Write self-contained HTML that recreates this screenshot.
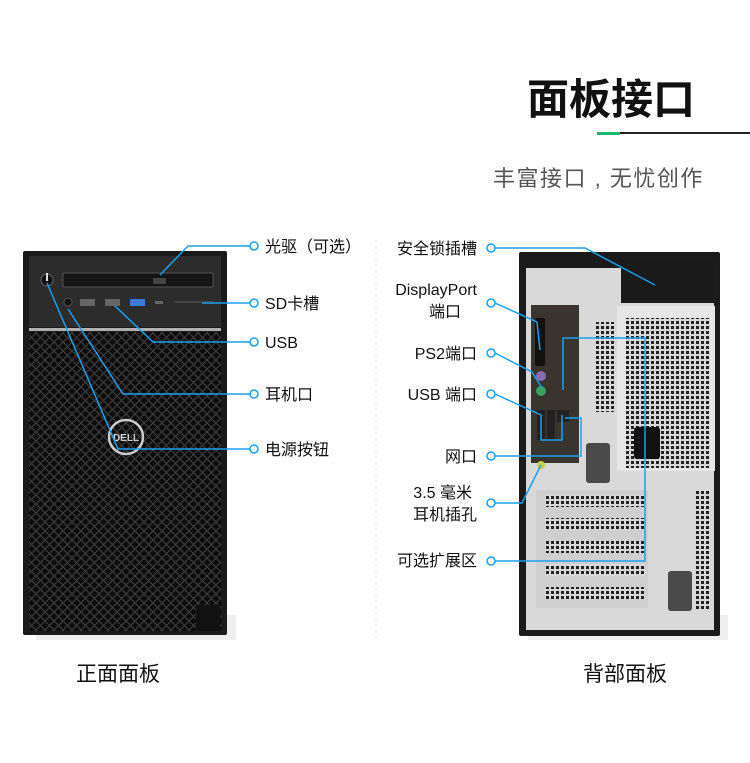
<!DOCTYPE html>
<html><head><meta charset="utf-8"><style>
html,body{margin:0;padding:0;background:#fff;}
svg{display:block;font-family:"Liberation Sans","Noto Sans CJK SC",sans-serif;}
</style></head><body>
<svg width="750" height="763" viewBox="0 0 750 763" xmlns="http://www.w3.org/2000/svg">
<defs>
<pattern id="mesh" width="9" height="9" patternUnits="userSpaceOnUse">
<rect width="9" height="9" fill="#0c0c0c"/>
<path d="M0 0L9 9M9 0L0 9" stroke="#3a3a3a" stroke-width="1.3"/>
</pattern>
<pattern id="grill" width="5" height="5" patternUnits="userSpaceOnUse">
<rect width="5" height="5" fill="#d8d8d8"/>
<rect x="1" y="1" width="3" height="3" fill="#222"/>
</pattern>
</defs>
<text x="527" y="114" font-size="42" font-weight="bold" fill="#111">面板接口</text>
<rect x="597" y="132" width="23" height="3" fill="#19b870"/>
<rect x="620" y="132" width="130" height="2" fill="#222"/>
<text x="493" y="186" font-size="22" letter-spacing="1.5" fill="#555">丰富接口 , 无忧创作</text>

<line x1="376" y1="240" x2="376" y2="640" stroke="#e2e2e2" stroke-dasharray="3 3"/>

<!-- front tower -->
<rect x="36" y="615" width="200" height="25" fill="#eee"/>
<rect x="23" y="251" width="204" height="384" rx="2" fill="#1a1a1a"/>
<rect x="29" y="256" width="192" height="71" fill="#2c2c2c"/>
<rect x="29" y="328" width="192" height="3" fill="#b0b0b0"/>
<rect x="29" y="332" width="192" height="299" fill="url(#mesh)"/>
<rect x="196" y="605" width="24" height="26" fill="#111"/>
<rect x="63" y="273" width="150" height="14" rx="1" fill="#151515" stroke="#555"/>
<rect x="153" y="278" width="13" height="6" fill="#444"/>
<circle cx="47" cy="280" r="6" fill="#111" stroke="#666"/>
<rect x="46" y="273" width="2" height="8" fill="#ddd"/>
<circle cx="68" cy="302" r="4" fill="#111" stroke="#555"/>
<rect x="80" y="299" width="15" height="7" fill="#666"/>
<rect x="105" y="299" width="15" height="7" fill="#666"/>
<rect x="130" y="299" width="15" height="7" fill="#3a7bd5"/>
<rect x="155" y="301" width="8" height="3" fill="#666"/>
<rect x="175" y="301" width="38" height="2" fill="#444"/>
<circle cx="126" cy="437" r="17" fill="none" stroke="#ccc" stroke-width="2.5"/>
<text x="126" y="441" font-size="10" font-weight="bold" fill="#ccc" text-anchor="middle">DELL</text>

<g stroke="#1aa0f0" stroke-width="1.5" fill="none">
<polyline points="250,246 188,246 160,275"/>
<polyline points="250,303 202,303"/>
<polyline points="250,342 153,342 115,306"/>
<polyline points="250,394 123,394 68,309"/>
<polyline points="250,449 118,449 47,283"/>
</g>
<g fill="#fff" stroke="#1aa0f0" stroke-width="1.5">
<circle cx="254" cy="246" r="4"/><circle cx="254" cy="303" r="4"/><circle cx="254" cy="342" r="4"/><circle cx="254" cy="394" r="4"/><circle cx="254" cy="449" r="4"/>
</g>
<g font-size="16" fill="#111">
<text x="265" y="252">光驱（可选）</text>
<text x="265" y="309">SD卡槽</text>
<text x="265" y="348">USB</text>
<text x="265" y="400">耳机口</text>
<text x="265" y="455">电源按钮</text>
</g>

<!-- back tower -->
<rect x="528" y="615" width="200" height="25" fill="#eee"/>
<rect x="519" y="252" width="201" height="384" rx="2" fill="#1b1b1b"/>
<rect x="526" y="268" width="188" height="362" fill="#d9d9d9"/>
<rect x="621" y="260" width="93" height="43" fill="#1a1a1a"/>
<rect x="531" y="305" width="48" height="158" fill="#3a342e"/>
<rect x="617" y="306" width="98" height="165" fill="#e6e6e6"/>
<rect x="626" y="318" width="84" height="150" fill="url(#grill)"/>
<rect x="634" y="427" width="26" height="32" rx="3" fill="#111"/>
<rect x="596" y="322" width="20" height="90" fill="url(#grill)"/>
<rect x="586" y="443" width="24" height="40" rx="3" fill="#4a4a4a"/>
<rect x="536" y="490" width="112" height="118" fill="#cfcfcf"/>
<rect x="545" y="495" width="100" height="12" fill="url(#grill)"/>
<rect x="545" y="518" width="100" height="12" fill="url(#grill)"/>
<rect x="545" y="541" width="100" height="12" fill="url(#grill)"/>
<rect x="545" y="564" width="100" height="12" fill="url(#grill)"/>
<rect x="545" y="587" width="100" height="12" fill="url(#grill)"/>
<rect x="696" y="490" width="14" height="120" fill="url(#grill)"/>
<rect x="668" y="571" width="24" height="40" rx="3" fill="#4a4a4a"/>
<rect x="535" y="318" width="10" height="48" rx="2" fill="#111"/>
<circle cx="541" cy="376" r="5" fill="#8a6ab0"/>
<circle cx="541" cy="391" r="5" fill="#3aa060"/>
<rect x="537" y="410" width="8" height="30" fill="#222"/>
<rect x="547" y="410" width="8" height="30" fill="#222"/>
<rect x="557" y="410" width="12" height="12" fill="#222"/>
<circle cx="541" cy="465" r="4" fill="#c8d040"/>

<g stroke="#1aa0f0" stroke-width="1.5" fill="none">
<polyline points="495,248 585,248 655,285"/>
<polyline points="495,303 537,322 540,350"/>
<polyline points="495,353 532,372 542,388"/>
<polyline points="495,394 541,415 541,440 562,440 562,415"/>
<polyline points="495,456 581,456 581,418 565,418"/>
<polyline points="495,503 522,503 541,465"/>
<polyline points="495,561 645,561 645,338 563,338 563,390"/>
</g>
<g fill="#fff" stroke="#1aa0f0" stroke-width="1.5">
<circle cx="491" cy="248" r="4"/><circle cx="491" cy="303" r="4"/><circle cx="491" cy="353" r="4"/><circle cx="491" cy="394" r="4"/><circle cx="491" cy="456" r="4"/><circle cx="491" cy="503" r="4"/><circle cx="491" cy="561" r="4"/>
</g>
<g font-size="16" fill="#111" text-anchor="end">
<text x="477" y="254">安全锁插槽</text>
<text x="477" y="295">DisplayPort</text>
<text x="461" y="317">端口</text>
<text x="477" y="359">PS2端口</text>
<text x="477" y="400">USB 端口</text>
<text x="477" y="462">网口</text>
<text x="472" y="498">3.5 毫米</text>
<text x="477" y="520">耳机插孔</text>
<text x="477" y="566">可选扩展区</text>
</g>

<text x="118" y="681" font-size="21" fill="#111" text-anchor="middle">正面面板</text>
<text x="625" y="681" font-size="21" fill="#111" text-anchor="middle">背部面板</text>
</svg>
</body></html>
